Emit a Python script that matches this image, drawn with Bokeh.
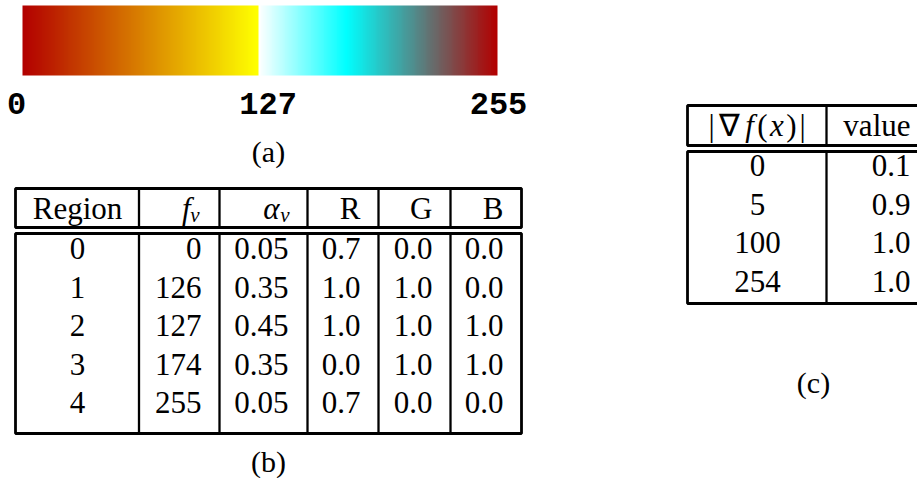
import numpy as np
from bokeh.plotting import figure
from bokeh.models import Range1d
from bokeh.core.properties import value
from bokeh.embed import file_html
from bokeh.resources import INLINE

# ---------------- data ----------------
region = [0, 1, 2, 3, 4]
f_v = [0, 126, 127, 174, 255]
alpha_v = [0.05, 0.35, 0.45, 0.35, 0.05]
R = [0.7, 1.0, 1.0, 0.0, 0.7]
G = [0.0, 1.0, 1.0, 1.0, 0.0]
B = [0.0, 0.0, 1.0, 1.0, 0.0]
grad_mag = [0, 5, 100, 254]
grad_value = [0.1, 0.9, 1.0, 1.0]
cmap_ticks = [0, 127, 255]

# ---------------- layout (screen pixels of the 917x478 window) ----------------
W, H = 917, 478
SERIF = value("Liberation Serif")
FS = "31px"

p = figure(width=W, height=H, x_range=Range1d(0, W), y_range=Range1d(H, 0),
           output_backend="svg", toolbar_location=None, min_border=0)
p.axis.visible = False
p.grid.visible = False
p.outline_line_color = None
p.background_fill_color = "white"
p.border_fill_color = "white"

# colour-bar scale: value 0..255 -> pixel 22..497
BAR_L, BAR_R, BAR_T, BAR_B = 22, 497, 5, 75
k = 255.0 / (BAR_R - BAR_L)
p.extra_x_ranges = {"cmap": Range1d(-BAR_L * k, 255 + (W - BAR_R) * k)}

idx = np.arange(256)
rr = np.interp(idx, f_v, R)
gg = np.interp(idx, f_v, G)
bb = np.interp(idx, f_v, B)
img = np.empty((1, 256), dtype=np.uint32)
view = img.view(dtype=np.uint8).reshape((1, 256, 4))
view[0, :, 0] = np.round(rr * 255).astype(np.uint8)
view[0, :, 1] = np.round(gg * 255).astype(np.uint8)
view[0, :, 2] = np.round(bb * 255).astype(np.uint8)
view[0, :, 3] = 255
p.image_rgba(image=[img], x=0, y=BAR_T, dw=255, dh=BAR_B - BAR_T, x_range_name="cmap")

p.text(x=cmap_ticks, y=[103] * 3, text=[str(t) for t in cmap_ticks], x_range_name="cmap",
       x_offset=[-6, 9, 1], text_align="center", text_baseline="middle",
       text_font=value("Liberation Mono"), text_font_style="bold", text_font_size="32px",
       text_color="black")

# captions
p.text(x=[268, 268, 813], y=[151, 461, 382], text=["(a)", "(b)", "(c)"],
       text_align="center", text_baseline="middle", text_font=SERIF,
       text_font_size="30px", text_color="black")

LW_OUT = 2.8
LW_IN = 2.3

# ---------------- table (b) ----------------
bx = [15, 138.5, 219, 307, 378, 450, 521]
b_head_top, b_head_bot, b_body_top, b_body_bot = 188, 227, 233, 433
b_head_y = 208
b_rows_y = [b_body_top + 15 + 38.5 * i for i in range(len(region))]

for (t, bt) in [(b_head_top, b_head_bot), (b_body_top, b_body_bot)]:
    p.quad(left=bx[0], right=bx[-1], top=t, bottom=bt, fill_color=None,
           line_color="black", line_width=LW_OUT)
    p.segment(x0=bx[1:-1], x1=bx[1:-1], y0=[t] * 5, y1=[bt] * 5,
              line_color="black", line_width=LW_IN)

# header
p.text(x=[77], y=[b_head_y], text=["Region"], text_align="center", text_baseline="middle",
       text_font=SERIF, text_font_size=FS, text_color="black")
p.text(x=[190, 279], y=[b_head_y, b_head_y], text=["f", "α"], text_align="right",
       text_baseline="middle", text_font=SERIF, text_font_style="italic",
       text_font_size=FS, text_color="black")
p.text(x=[199, 289], y=[b_head_y + 6, b_head_y + 6], text=["v", "v"], text_align="right",
       text_baseline="middle", text_font=SERIF, text_font_style="italic",
       text_font_size="21px", text_color="black")
p.text(x=[360, 432, 503], y=[b_head_y] * 3, text=["R", "G", "B"], text_align="right",
       text_baseline="middle", text_font=SERIF, text_font_size=FS, text_color="black")

# body
p.text(x=[77] * 5, y=b_rows_y, text=[str(v) for v in region], text_align="center",
       text_baseline="middle", text_font=SERIF, text_font_size=FS, text_color="black")
cols = [([str(v) for v in f_v], 201),
        (["%.2f" % v for v in alpha_v], 288),
        (["%.1f" % v for v in R], 360),
        (["%.1f" % v for v in G], 432),
        (["%.1f" % v for v in B], 503)]
for txt, xr in cols:
    p.text(x=[xr] * len(txt), y=b_rows_y, text=txt, text_align="right",
           text_baseline="middle", text_font=SERIF, text_font_size=FS, text_color="black")

# ---------------- table (c) ----------------
cx = [687, 826, 935]
c_head_top, c_head_bot, c_body_top, c_body_bot = 105, 145, 151, 303
c_head_y = 125
c_rows_y = [c_body_top + 14 + 38.5 * i for i in range(len(grad_mag))]

for (t, bt) in [(c_head_top, c_head_bot), (c_body_top, c_body_bot)]:
    p.quad(left=cx[0], right=cx[-1], top=t, bottom=bt, fill_color=None,
           line_color="black", line_width=LW_OUT)
    p.segment(x0=[cx[1]], x1=[cx[1]], y0=[t], y1=[bt],
              line_color="black", line_width=LW_IN)

# header |∇f(x)|
p.text(x=[711, 729, 762, 791, 802], y=[c_head_y] * 5, text=["|", "∇", "(", ")", "|"],
       text_align="center", text_baseline="middle", text_font=SERIF,
       text_font_size=FS, text_color="black")
p.text(x=[749, 776.5], y=[c_head_y] * 2, text=["f", "x"], text_align="center",
       text_baseline="middle", text_font=SERIF, text_font_style="italic",
       text_font_size=FS, text_color="black")
p.text(x=[910], y=[c_head_y], text=["value"], text_align="right", text_baseline="middle",
       text_font=SERIF, text_font_size=FS, text_color="black")

# body
p.text(x=[757] * 4, y=c_rows_y, text=[str(v) for v in grad_mag], text_align="center",
       text_baseline="middle", text_font=SERIF, text_font_size=FS, text_color="black")
p.text(x=[910] * 4, y=c_rows_y, text=["%.1f" % v for v in grad_value], text_align="right",
       text_baseline="middle", text_font=SERIF, text_font_size=FS, text_color="black")

open("out.html", "w").write(file_html(p, INLINE))
